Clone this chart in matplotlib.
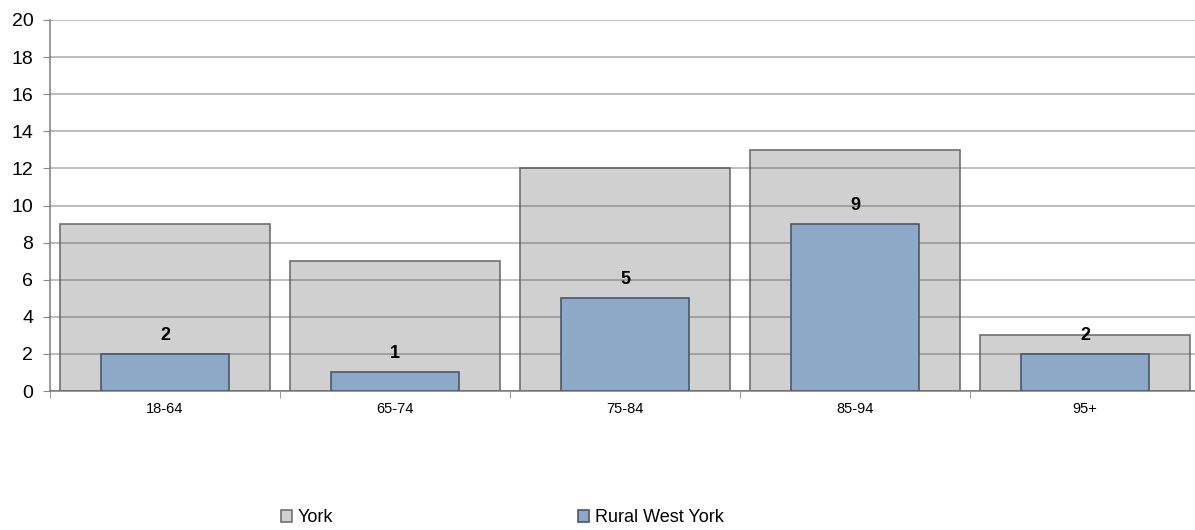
import matplotlib
matplotlib.use("Agg")
import matplotlib.pyplot as plt
import numpy as np

categories = ["18-64", "65-74", "75-84", "85-94", "95+"]
york = [9, 7, 12, 13, 3]
rural_west_york = [2, 1, 5, 9, 2]
yticks = [0, 2, 4, 6, 8, 10, 12, 14, 16, 18, 20]

plt.rcParams['font.family'] = ['Liberation Sans', 'DejaVu Sans']

W, H = 1195, 530
fig = plt.figure(figsize=(W / 100, H / 100), dpi=100)
ax = fig.add_axes([50 / W, 1 - 391 / H, 1150 / W, 371 / H])

x = np.arange(len(categories))
ax.bar(x, york, width=0.91, color="#D0D0D0", edgecolor="#6f6f6f", linewidth=1.2, zorder=2, label="York")
ax.bar(x, rural_west_york, width=0.555, color="#8EA8C7", edgecolor="#4a5868", linewidth=1.2, zorder=3, label="Rural West York")

for xi, v in zip(x, rural_west_york):
    ax.text(xi, v + 0.55, str(v), ha="center", va="bottom", fontsize=13, fontweight="bold", zorder=5)

ax.set_xlim(-0.5, len(categories) - 0.5)
ax.set_ylim(0, 20)
ax.set_yticks(yticks)
ax.set_yticklabels([str(t) for t in yticks], fontsize=14)
ax.yaxis.grid(True, color="#555555", alpha=0.45, linewidth=1.2, zorder=4)
ax.set_axisbelow(False)
for gl in ax.get_ygridlines():
    gl.set_zorder(4)

ax.set_xticks(x)
ax.set_xticklabels(categories, fontsize=10.5)
ax.tick_params(axis="x", length=0, pad=8)
ax.set_xticks(np.arange(len(categories)) - 0.5, minor=True)
ax.tick_params(axis="x", which="minor", length=5, color="#888888", direction="out")
ax.tick_params(axis="y", length=5, color="#888888", pad=7)

for s in ["top", "right"]:
    ax.spines[s].set_visible(False)
for s in ["left", "bottom"]:
    ax.spines[s].set_color("#888888")
    ax.spines[s].set_linewidth(1.2)

handles, labels = ax.get_legend_handles_labels()
fig.legend(handles, labels, loc="center left", bbox_to_anchor=(281 / W, 1 - 518 / H),
           ncol=2, frameon=False, fontsize=13, handlelength=0.6, handleheight=0.6,
           handletextpad=0.3, columnspacing=13.6, borderpad=0, borderaxespad=0)

fig.savefig("out.png", dpi=100)
